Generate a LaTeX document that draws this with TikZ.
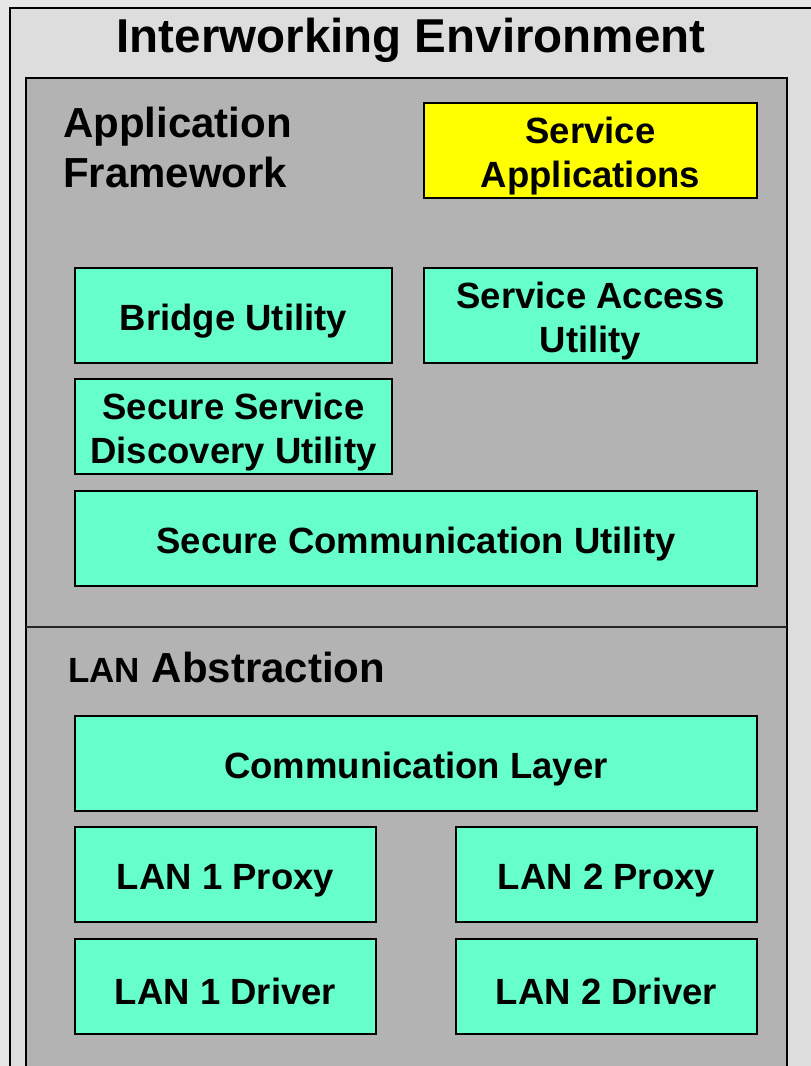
\documentclass[tikz,border=0pt]{standalone}
\usepackage{fontspec}
\setmainfont{Liberation Sans}
\definecolor{pagebg}{HTML}{E6E6E6}
\definecolor{envfill}{HTML}{DDDDDD}
\definecolor{layerfill}{HTML}{B3B3B3}
\definecolor{utilfill}{HTML}{66FFCC}
\definecolor{appfill}{HTML}{FFFF00}
% invisible strut that sets a label a little below the box centre
\newcommand{\lowstrut}{\rule{0pt}{37bp}}
\tikzset{
  module/.style={draw=black, line width=2bp, fill=utilfill, inner sep=0pt,
    align=center, minimum height=95bp,
    font=\fontsize{36.5bp}{44bp}\selectfont\bfseries},
  appbox/.style={module, fill=appfill},
  heading/.style={anchor=base west, inner sep=0pt, align=left,
    font=\fontsize{42bp}{50bp}\selectfont\bfseries},
}
\begin{document}
\begin{tikzpicture}[x=1bp,y=-1bp]
  \useasboundingbox (0,0) rectangle (811,1066);
  \fill[pagebg] (0,0) rectangle (811,1066);
  \clip (0,0) rectangle (811,1066);

  % interworking environment and the two layers
  \draw[line width=2bp, fill=envfill] (10,8) rectangle (840,1100);
  \draw[line width=2bp, fill=layerfill] (26,78) rectangle (787,1100);
  \coordinate (divL) at (26,627);
  \coordinate (divR) at (787,627);
  \draw[line width=2bp, draw=black!85] (divL) -- (divR);

  \node[anchor=base, inner sep=0pt, font=\fontsize{47.5bp}{56bp}\selectfont\bfseries]
    (env) at (411,52) {Interworking Environment};

  % application framework (base anchor is the baseline of the last line)
  \node[heading] (appfw) at (63,187) {Application\\Framework};
  \node[appbox, minimum width=333bp] (svcapp) at (590.5,150.5) {\lowstrut Service\\Applications};
  \node[module, minimum width=317bp] (bridge) at (233.5,315.5) {\lowstrut Bridge Utility};
  \node[module, minimum width=333bp] (access) at (590.5,315.5) {\lowstrut Service Access\\Utility};
  \node[module, minimum width=317bp] (discovery) at (233.5,426.5) {\lowstrut Secure Service\\Discovery Utility};
  \node[module, minimum width=682bp] (securecomm) at (416,538.5) {\lowstrut Secure Communication Utility};

  % LAN abstraction
  \node[heading] (lanabs) at (68,682)
    {{\fontsize{35bp}{42bp}\selectfont LAN} Abstraction};
  \node[module, minimum width=682bp] (commlayer) at (416,763.5) {\lowstrut Communication Layer};
  \node[module, minimum width=301bp] (proxy1) at (225.5,874.5) {\lowstrut LAN 1 Proxy};
  \node[module, minimum width=301bp] (proxy2) at (606.5,874.5) {\lowstrut LAN 2 Proxy};
  \node[module, minimum width=301bp] (driver1) at (225.5,986.5) {\lowstrut LAN 1 Driver};
  \node[module, minimum width=301bp] (driver2) at (606.5,986.5) {\lowstrut LAN 2 Driver};
\end{tikzpicture}
\end{document}
